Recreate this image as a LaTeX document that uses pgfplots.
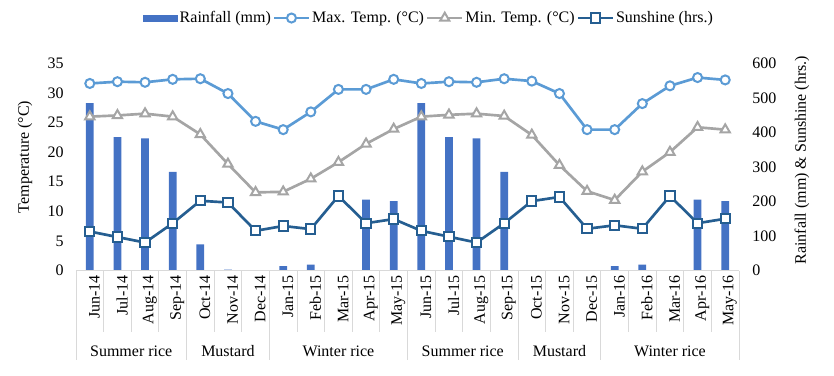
\documentclass[border=0pt]{standalone}
\usepackage{fontspec}
\setmainfont{Liberation Serif}
\usepackage{pgfplots}
\usepackage{pgfplotstable}
\pgfplotsset{compat=1.18}
\definecolor{rain}{HTML}{4472C4}
\definecolor{maxc}{HTML}{5B9BD5}
\definecolor{minc}{HTML}{A5A5A5}
\definecolor{sunc}{HTML}{255E91}
\definecolor{gridc}{HTML}{D9D9D9}
\newcommand{\tw}{\fontsize{12}{14}\selectfont}

\pgfplotstableread{
x rain maxt mint sun
0  485 31.6 26.0 113
1  386 31.9 26.2 97
2  383 31.8 26.5 81
3  286 32.3 26.0 137
4  76  32.4 23.0 202
5  3   29.9 18.0 197
6  0   25.2 13.2 115
7  13  23.8 13.3 129
8  17  26.8 15.5 120
9  0   30.6 18.3 216
10 205 30.6 21.4 137
11 201 32.3 23.9 149
12 485 31.6 26.0 115
13 386 31.9 26.3 98
14 383 31.8 26.5 81
15 286 32.4 26.1 137
16 0   32.0 22.9 201
17 0   29.9 17.8 213
18 0   23.8 13.4 121
19 13  23.8 11.9 131
20 17  28.2 16.7 121
21 0   31.2 20.0 216
22 205 32.6 24.2 137
23 201 32.2 23.8 150
}\datatable

\pgfplotsset{
  common/.style={
    width=497.25pt, height=155.4pt, scale only axis,
    at={(0pt,0pt)}, anchor=south west,
    xmin=-0.5, xmax=23.5, ymin=0, clip=false,
    major tick length=0pt, minor tick length=0pt,
    /pgf/number format/assume math mode=true,
  },
  lineleg/.style={legend image code/.code={%
    \draw[mark repeat=2,mark phase=2,##1] plot coordinates {(0pt,0pt) (13pt,0pt) (26pt,0pt)};}},
}

\begin{document}
\begin{tikzpicture}
\useasboundingbox (-57pt,-78.4pt) rectangle (568.5pt,202.9pt);

% right-scale axis: rainfall bars and sunshine
\begin{axis}[common,
  ymax=600, ytick={0,100,...,600},
  axis y line*=right, axis x line*=bottom,
  y axis line style={draw=none}, x axis line style={draw=none},
  xtick=\empty,
  yticklabel style={font=\tw, xshift=6.5pt},
  ylabel={Rainfall (mm) \& Sunshine (hrs.)},
  every axis y label/.style={font=\tw, at={(axis description cs:1.095,0.533)}, rotate=90, anchor=center},
]
\addplot[ybar, bar width=5.8pt, bar shift=0pt, fill=rain, draw=none] table[x=x, y=rain] {\datatable};
\addplot[sunc, line width=2pt, mark=square*, mark options={fill=white, line width=1.5pt, mark size=3.5pt}] table[x=x, y=sun] {\datatable};
\end{axis}

% left-scale axis: temperatures
\begin{axis}[common,
  ymax=35, ytick={0,5,...,35},
  axis y line*=left, axis x line*=bottom,
  y axis line style={draw=none}, x axis line style={draw=gridc, line width=0.75pt},
  xtick={0,...,23},
  xticklabels={Jun-14,Jul-14,Aug-14,Sep-14,Oct-14,Nov-14,Dec-14,Jan-15,Feb-15,Mar-15,Apr-15,May-15,Jun-15,Jul-15,Aug-15,Sep-15,Oct-15,Nov-15,Dec-15,Jan-16,Feb-16,Mar-16,Apr-16,May-16},
  xticklabel style={font=\tw, rotate=90, anchor=east, yshift=-3.5pt},
  yticklabel style={font=\tw, xshift=-5.75pt},
  ylabel={Temperature (°C)},
  every axis y label/.style={font=\tw, at={(axis description cs:-0.077,0.548)}, rotate=90, anchor=center},
  legend columns=4,
  legend style={at={(axis description cs:0.532,1.2187)}, anchor=center, draw=none, fill=none,
    font=\tw, nodes={inner xsep=1.5pt},
    /tikz/every even column/.append style={column sep=0pt},
    /tikz/every odd column/.append style={column sep=0pt}},
  legend image post style={mark size=2.8pt},
]
\addlegendimage{legend image code/.code={\fill[rain] (0pt,-2.25pt) rectangle (26pt,2.25pt);}}
\addlegendentry{Rainfall (mm)}
\addplot[maxc, line width=2pt, mark=*, mark options={fill=white, line width=1.5pt, mark size=3.4pt}, lineleg] table[x=x, y=maxt] {\datatable};
\addlegendentry{Max. Temp. (°C)}
\addplot[minc, line width=2pt, mark=triangle*, mark options={fill=white, line width=1.5pt, mark size=4pt}, lineleg] table[x=x, y=mint] {\datatable};
\addlegendentry{Min. Temp. (°C)}
\addlegendimage{sunc, line width=2pt, mark=square*, mark options={fill=white, line width=1.5pt, mark size=3.5pt}, lineleg}
\addlegendentry{Sunshine (hrs.)}

\pgfplotsinvokeforeach{-0.5,0.5,...,23.5}{\draw[gridc, line width=0.75pt] (axis cs:#1,0) -- ++(0pt,-46pt);}
\pgfplotsinvokeforeach{-0.5,3.5,6.5,11.5,15.5,18.5,23.5}{\draw[gridc, line width=0.75pt] (axis cs:#1,0) -- ++(0pt,-67pt);}
\node[font=\tw, yshift=-60.4pt] at (axis cs:1.5,0) {Summer rice};
\node[font=\tw, yshift=-60.4pt] at (axis cs:5,0) {Mustard};
\node[font=\tw, yshift=-60.4pt] at (axis cs:9,0) {Winter rice};
\node[font=\tw, yshift=-60.4pt] at (axis cs:13.5,0) {Summer rice};
\node[font=\tw, yshift=-60.4pt] at (axis cs:17,0) {Mustard};
\node[font=\tw, yshift=-60.4pt] at (axis cs:21,0) {Winter rice};
\end{axis}
\end{tikzpicture}
\end{document}
